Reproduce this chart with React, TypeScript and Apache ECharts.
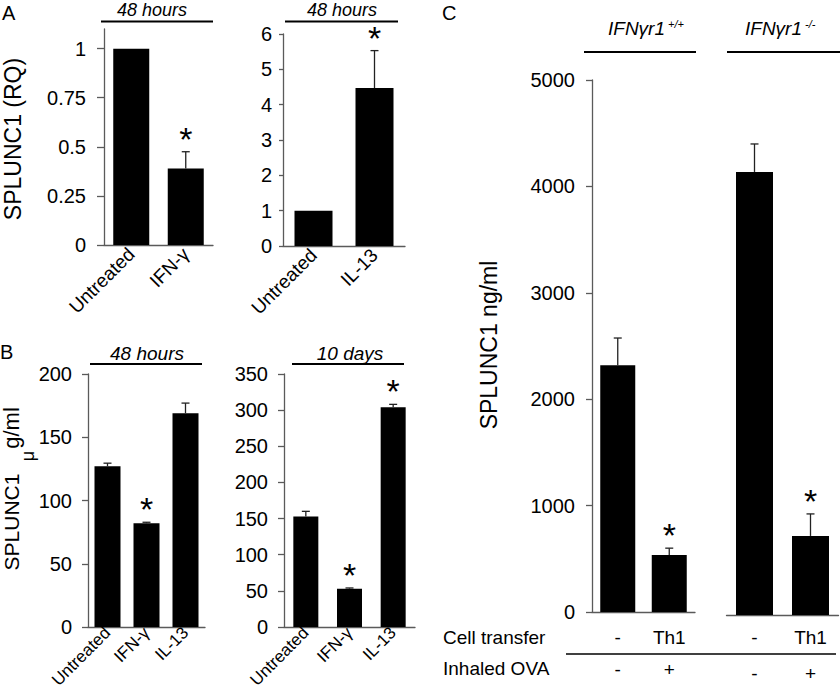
import React, { useEffect, useRef } from "react";
import * as echarts from "echarts";

// Panel A (left): 48 hours
const catsA1 = ["Untreated", "IFN-γ"];
const valsA1 = [1.0, 0.39];
const errA1 = [0, 0.085];
const sigA1 = [0, 1];
const ticksA1 = [0, 0.25, 0.5, 0.75, 1];

// Panel A (right): 48 hours
const catsA2 = ["Untreated", "IL-13"];
const valsA2 = [1.0, 4.47];
const errA2 = [0, 1.06];
const sigA2 = [0, 1];

// Panel B
const catsB = ["Untreated", "IFN-γ", "IL-13"];
const valsB1 = [127, 82, 169];
const errB1 = [2.5, 0.8, 8];
const sigB1 = [0, 1, 0];
const valsB2 = [153, 53, 304];
const errB2 = [7, 1, 4];
const sigB2 = [0, 1, 1];

// Panel C
const cellTransfer = ["-", "Th1", "-", "Th1"];
const inhaledOVA = ["-", "+", "-", "+"];
const valsC = [2320, 536, 4164, 743];
const errC = [255, 64, 263, 207];
const sigC = [0, 1, 0, 1];

const FONT = "'Liberation Sans', Arial, Helvetica, sans-serif";
const AXIS_COLOR = "#5a5a5a";

function errRender(gap: number, starSize: number) {
  return (params: any, api: any) => {
    const i = api.value(0);
    const v = api.value(1);
    const e = api.value(2);
    const s = api.value(3);
    const base = api.coord([i, v]);
    const top = api.coord([i, v + e]);
    const children: any[] = [];
    if (e > 0) {
      children.push({
        type: "line",
        shape: { x1: base[0], y1: base[1], x2: base[0], y2: top[1] },
        style: { stroke: "#222", lineWidth: 1.3 },
      });
      children.push({
        type: "line",
        shape: { x1: base[0] - 4, y1: top[1], x2: base[0] + 4, y2: top[1] },
        style: { stroke: "#222", lineWidth: 1.3 },
      });
    }
    if (s) {
      children.push({
        type: "text",
        x: base[0],
        y: top[1] - gap,
        style: {
          text: "*",
          fontSize: starSize,
          fontFamily: FONT,
          fill: "#000",
          align: "center",
          verticalAlign: "middle",
        },
      });
    }
    return { type: "group", children };
  };
}

function errData(vals: number[], errs: number[], sig: number[]) {
  return vals.map((v, i) => [i, v, errs[i], sig[i]]);
}

function yAxis(gridIndex: number, min: number, max: number, interval: number | null, margin: number, tickLen: number, custom?: number[]) {
  const ax: any = {
    type: "value",
    gridIndex,
    min,
    max,
    splitLine: { show: false },
    axisLine: { show: true, lineStyle: { color: AXIS_COLOR, width: 1.3 } },
    axisTick: { show: true, length: tickLen, lineStyle: { color: AXIS_COLOR, width: 1.3 } },
    axisLabel: {
      margin,
      fontSize: 20,
      color: "#000",
      fontFamily: FONT,
      formatter: (v: number) => String(v),
    },
  };
  if (interval != null) ax.interval = interval;
  if (custom) {
    ax.axisLabel.customValues = custom;
    ax.axisTick.customValues = custom;
  }
  return ax;
}

function xAxis(gridIndex: number, data: string[], margin: number, size: number) {
  return {
    type: "category",
    gridIndex,
    data,
    axisLine: { show: true, lineStyle: { color: AXIS_COLOR, width: 1.3 } },
    axisTick: { show: false },
    axisLabel: {
      interval: 0,
      rotate: 45,
      margin,
      fontSize: size,
      color: "#000",
      fontFamily: FONT,
    },
  };
}

function barSeries(idx: number, vals: number[], width: number) {
  return {
    type: "bar",
    xAxisIndex: idx,
    yAxisIndex: idx,
    data: vals,
    barWidth: width,
    itemStyle: { color: "#000" },
    z: 2,
  };
}

function errSeries(idx: number, data: any[], gap: number, star: number) {
  return {
    type: "custom",
    xAxisIndex: idx,
    yAxisIndex: idx,
    data,
    renderItem: errRender(gap, star),
    z: 5,
  };
}

function titleText(x: number, y: number, text: string, size = 18) {
  return {
    type: "text",
    x,
    y,
    style: {
      text,
      fontSize: size,
      fontStyle: "italic",
      fontFamily: FONT,
      fill: "#000",
      align: "center",
      verticalAlign: "middle",
    },
  };
}

function hLine(x1: number, x2: number, y: number, w = 2) {
  return {
    type: "line",
    shape: { x1, y1: y, x2, y2: y },
    style: { stroke: "#000", lineWidth: w },
  };
}

function plainText(x: number, y: number, text: string, size: number, align = "left", rotation = 0) {
  return {
    type: "text",
    x,
    y,
    rotation,
    style: {
      text,
      fontSize: size,
      fontFamily: FONT,
      fill: "#000",
      align,
      verticalAlign: "middle",
    },
  };
}

export default function App() {
  const ref = useRef<HTMLDivElement>(null);

  useEffect(() => {
    if (!ref.current) return;
    const chart = echarts.init(ref.current, null, { renderer: "svg" });

    const cLeftCT = cellTransfer.slice(0, 2);
    const cRightCT = cellTransfer.slice(2, 4);

    const option: any = {
      animation: false,
      backgroundColor: "#fff",
      textStyle: { fontFamily: FONT },
      grid: [
        { left: 104, top: 29, width: 109, height: 216, outerBoundsMode: "none" },
        { left: 283, top: 34, width: 122, height: 212, outerBoundsMode: "none" },
        { left: 88, top: 374, width: 117, height: 253, outerBoundsMode: "none" },
        { left: 284, top: 374, width: 131, height: 253, outerBoundsMode: "none" },
        { left: 592, top: 80, width: 103, height: 532, outerBoundsMode: "none" },
        { left: 726.5, top: 83, width: 112, height: 532, outerBoundsMode: "none" },
      ],
      xAxis: [
        xAxis(0, catsA1, 6, 19),
        xAxis(1, catsA2, 6, 19),
        xAxis(2, catsB, 3, 17),
        xAxis(3, catsB, 3, 17),
        {
          type: "category",
          gridIndex: 4,
          data: cLeftCT,
          axisLine: { show: true, lineStyle: { color: AXIS_COLOR, width: 1.3 } },
          axisTick: { show: false },
          axisLabel: {
            interval: 0,
            margin: 9,
            fontSize: 19,
            lineHeight: 32,
            verticalAlign: "top",
            color: "#000",
            fontFamily: FONT,
            formatter: (val: string, idx: number) => `${val}\n${inhaledOVA[idx]}`,
          },
        },
        {
          type: "category",
          gridIndex: 5,
          data: cRightCT,
          axisLine: { show: true, lineStyle: { color: AXIS_COLOR, width: 1.3 } },
          axisTick: { show: false },
          axisLabel: {
            interval: 0,
            margin: 4,
            fontSize: 19,
            lineHeight: 36,
            verticalAlign: "top",
            color: "#000",
            fontFamily: FONT,
            formatter: (val: string, idx: number) => `${val}\n${inhaledOVA[idx + 2]}`,
          },
        },
      ],
      yAxis: [
        yAxis(0, 0, 1.1, null, 18, 7, ticksA1),
        yAxis(1, 0, 6, 1, 11, 4),
        yAxis(2, 0, 200, 50, 16, 6),
        yAxis(3, 0, 350, 50, 16, 6),
        yAxis(4, 0, 5000, 1000, 17, 6),
        { type: "value", gridIndex: 5, min: 0, max: 5000, show: false },
      ],
      series: [
        barSeries(0, valsA1, 36),
        errSeries(0, errData(valsA1, errA1, sigA1), 13, 34),
        barSeries(1, valsA2, 38),
        errSeries(1, errData(valsA2, errA2, sigA2), 13, 34),
        barSeries(2, valsB1, 26),
        errSeries(2, errData(valsB1, errB1, sigB1), 13, 34),
        barSeries(3, valsB2, 25),
        errSeries(3, errData(valsB2, errB2, sigB2), 13, 34),
        barSeries(4, valsC.slice(0, 2), 35),
        errSeries(4, errData(valsC.slice(0, 2), errC.slice(0, 2), sigC.slice(0, 2)), 13, 34),
        barSeries(5, valsC.slice(2, 4), 37),
        errSeries(5, errData(valsC.slice(2, 4), errC.slice(2, 4), sigC.slice(2, 4)), 13, 34),
      ],
      graphic: [
        // Panel letters
        plainText(2, 13, "A", 20),
        plainText(0, 352, "B", 20),
        plainText(442, 13, "C", 20),
        // Panel A titles
        titleText(152, 10, "48 hours"),
        hLine(101, 213, 21.5),
        titleText(342, 10, "48 hours"),
        hLine(285, 398, 21.5),
        // Panel B titles
        titleText(147, 353, "48 hours", 19),
        hLine(90, 202, 364),
        titleText(350, 353, "10 days", 19),
        hLine(292, 404, 364),
        // Panel C titles
        {
          type: "text",
          x: 608,
          y: 28,
          style: {
            text: "{m|IFNγr1}{s| +/+}",
            fontFamily: FONT,
            fill: "#000",
            verticalAlign: "middle",
            rich: {
              m: { fontSize: 19, fontStyle: "italic", fontFamily: FONT },
              s: { fontSize: 11, fontStyle: "italic", verticalAlign: "top", fontFamily: FONT },
            },
          },
        },
        hLine(584, 696, 52),
        {
          type: "text",
          x: 745,
          y: 28,
          style: {
            text: "{m|IFNγr1}{s| -/-}",
            fontFamily: FONT,
            fill: "#000",
            verticalAlign: "middle",
            rich: {
              m: { fontSize: 19, fontStyle: "italic", fontFamily: FONT },
              s: { fontSize: 11, fontStyle: "italic", verticalAlign: "top", fontFamily: FONT },
            },
          },
        },
        hLine(727, 840, 52),
        // Y titles
        plainText(13, 139, "SPLUNC1 (RQ)", 23, "center", Math.PI / 2),
        plainText(11, 522, "SPLUNC1", 21, "center", Math.PI / 2),
        plainText(28, 456, "μ", 18, "center", Math.PI / 2),
        plainText(11, 428, "g/ml", 22, "center", Math.PI / 2),
        plainText(489, 345, "SPLUNC1 ng/ml", 23, "center", Math.PI / 2),
        // Panel C row labels
        plainText(443, 637, "Cell transfer", 19),
        hLine(566, 836, 654, 1.5),
        plainText(443, 668, "Inhaled OVA", 19),
      ],
    };

    chart.setOption(option);
    return () => chart.dispose();
  }, []);

  return (
    <div
      ref={ref}
      style={{ position: "absolute", left: 0, top: 0, width: 840, height: 695, background: "#fff" }}
    />
  );
}
